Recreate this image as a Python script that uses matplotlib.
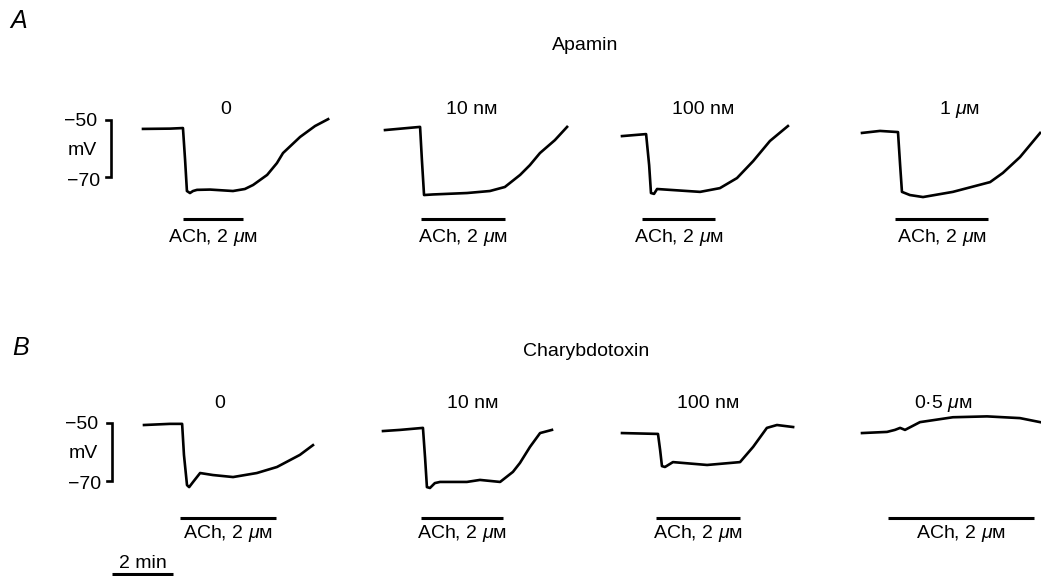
import numpy as np
import matplotlib.pyplot as plt

plt.rcParams['font.family'] = ['Liberation Sans', 'DejaVu Sans']
plt.rcParams['mathtext.fontset'] = 'custom'
plt.rcParams['mathtext.it'] = 'Liberation Sans:italic'
plt.rcParams['mathtext.rm'] = 'Liberation Sans'

# время, мин ; потенциал, мВ
a1_t = [0, 0.89, 1.31, 1.38, 1.44, 1.54, 1.64, 1.77, 2.20, 2.95, 3.34, 3.61, 4.07, 4.39, 4.59, 5.15, 5.64, 6.07]
a1_v = [-53.1, -53.0, -52.8, -63.9, -74.7, -75.4, -74.7, -74.3, -74.2, -74.7, -74.0, -72.6, -69.1, -65.0, -61.5, -55.9, -52.1, -49.7]
a2_t = [0, 1.15, 1.21, 1.28, 1.57, 2.69, 3.44, 3.93, 4.43, 4.75, 5.08, 5.57, 5.97]
a2_v = [-53.5, -52.4, -63.9, -76.1, -75.9, -75.4, -74.7, -73.3, -69.1, -65.7, -61.5, -57.0, -52.4]
a3_t = [0, 0.79, 0.89, 0.95, 1.05, 1.15, 1.57, 2.56, 3.21, 3.77, 4.30, 4.85, 5.44]
a3_v = [-55.6, -54.9, -65.7, -75.4, -75.7, -74.0, -74.3, -75.0, -73.7, -70.2, -64.3, -57.3, -52.1]
a4_t = [0, 0.59, 1.18, 1.25, 1.31, 1.57, 2.00, 2.98, 4.20, 4.62, 5.18, 5.84]
a4_v = [-54.5, -53.8, -54.2, -65.7, -75.0, -76.1, -76.8, -75.0, -71.6, -68.4, -62.9, -54.5]

b1_t = [0, 0.85, 1.25, 1.31, 1.41, 1.48, 1.61, 1.84, 2.26, 2.92, 3.70, 4.36, 5.11, 5.54]
b1_v = [-50.7, -50.3, -50.3, -61.1, -71.6, -72.3, -70.5, -67.4, -68.1, -68.8, -67.4, -65.3, -61.1, -57.7]
b2_t = [0, 0.56, 1.31, 1.38, 1.44, 1.54, 1.70, 1.87, 2.75, 3.18, 3.84, 4.26, 4.49, 4.82, 5.15, 5.54]
b2_v = [-52.8, -52.4, -51.7, -62.2, -72.3, -72.6, -70.9, -70.5, -70.5, -69.8, -70.5, -67.0, -63.9, -58.3, -53.5, -52.4]
b3_t = [0, 1.18, 1.25, 1.31, 1.41, 1.67, 2.79, 3.87, 4.30, 4.75, 5.08, 5.61]
b3_v = [-53.5, -53.8, -59.4, -65.0, -65.3, -63.6, -64.6, -63.6, -58.3, -51.7, -50.7, -51.4]
b4_t = [0, 0.82, 1.08, 1.25, 1.41, 1.90, 2.98, 4.10, 5.18, 5.84]
b4_v = [-53.5, -53.1, -52.4, -51.7, -52.4, -49.7, -48.0, -47.7, -48.3, -49.7]

# аппликация ACh (начало, конец), мин
a_ach = [(1.31, 3.28), (1.18, 3.93), (0.66, 3.05), (1.08, 4.13)]
b_ach = [(1.18, 4.33), (1.25, 3.93), (1.11, 3.87), (0.85, 5.64)]

a_conc = ['0', '10 nᴍ', '100 nᴍ', r'1 $\mu$ᴍ']
b_conc = ['0', '10 nᴍ', '100 nᴍ', r'0·5 $\mu$ᴍ']
a_conc_t = [2.72, 2.85, 2.66, 3.21]
b_conc_t = [2.49, 2.95, 2.82, 2.66]

W, H = 1041, 576
PX_MIN = 30.5    # пикселей на минуту
PX_MV = 2.875    # пикселей на мВ
fig = plt.figure(figsize=(W / 100, H / 100), dpi=100)


def panel(x0, ytop):
    # оси в пиксельной раскладке; -50 мВ лежит на высоте ytop
    up, down, wd = 45, 150, 200
    ax = fig.add_axes([x0 / W, 1 - (ytop + down) / H, wd / W, (up + down) / H])
    ax.set_xlim(0, wd / PX_MIN)
    ax.set_ylim(-50 - down / PX_MV, -50 + up / PX_MV)
    ax.axis('off')
    return ax


def mv(dy):
    return -50 - dy / PX_MV


rows = [
    (120, [143, 385, 622, 862], [(a1_t, a1_v), (a2_t, a2_v), (a3_t, a3_v), (a4_t, a4_v)],
     a_ach, a_conc, a_conc_t, 99, 118, -10),
    (423, [144, 383, 622, 862], [(b1_t, b1_v), (b2_t, b2_v), (b3_t, b3_v), (b4_t, b4_v)],
     b_ach, b_conc, b_conc_t, 95, 111, -20),
]

fs = 14
first_axes = []
for ytop, xs, traces, ach, conc, conc_t, bar_dy, lab_dy, conc_dy in rows:
    for i in range(4):
        ax = panel(xs[i], ytop)
        t, v = traces[i]
        ax.plot(t, v, color='black', lw=1.9, solid_joinstyle='round', clip_on=False)
        t0, t1 = ach[i]
        ax.plot([t0, t1], [mv(bar_dy)] * 2, color='black', lw=2.2, solid_capstyle='butt')
        ax.text((t0 + t1) / 2, mv(lab_dy), r'ACh, 2 $\mu$ᴍ', ha='center', va='center', fontsize=fs)
        ax.text(conc_t[i], mv(conc_dy), conc[i], ha='center', va='center', fontsize=fs)
        if i == 0:
            first_axes.append(ax)

# калибровка по напряжению
for ax in first_axes:
    xb, xt = -1.05, -1.22
    ax.plot([xt, xb, xb, xt], [-50, -50, -70, -70], color='black', lw=1.9,
            clip_on=False, solid_joinstyle='miter')
    ax.text(-1.5, -50.5, '\u221250', ha='right', va='center', fontsize=fs)
    ax.text(-2.0, -60.5, 'mV', ha='center', va='center', fontsize=fs)
    ax.text(-1.4, -71.5, '\u221270', ha='right', va='center', fontsize=fs)

# калибровка по времени: 2 мин
axb = first_axes[1]
axb.plot([-1.05, 0.95], [mv(151)] * 2, color='black', lw=2.2, clip_on=False, solid_capstyle='butt')
axb.text(-0.05, mv(140), '2 min', ha='center', va='center', fontsize=fs)

fig.text(10 / W, 1 - 21 / H, 'A', fontsize=18, style='italic', ha='left', va='center')
fig.text(12 / W, 1 - 348 / H, 'B', fontsize=18, style='italic', ha='left', va='center')
fig.text(585 / W, 1 - 46 / H, 'Apamin', fontsize=fs, ha='center', va='center')
fig.text(586 / W, 1 - 352 / H, 'Charybdotoxin', fontsize=fs, ha='center', va='center')

fig.savefig('out.png', dpi=100)
